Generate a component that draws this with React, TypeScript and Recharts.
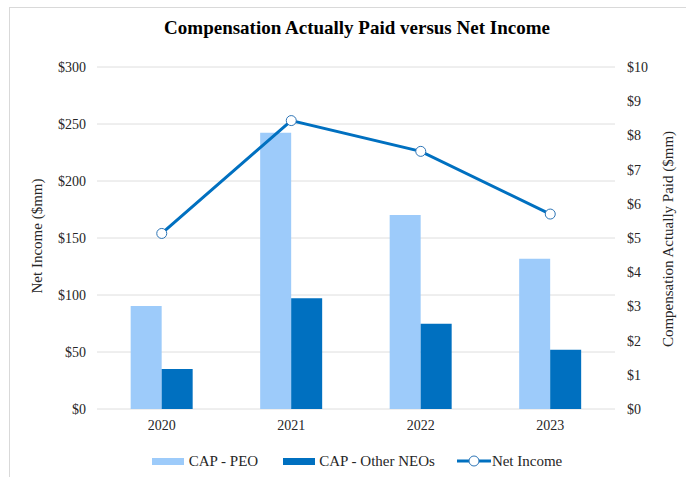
import { ComposedChart, Bar, Line, XAxis, YAxis, CartesianGrid, Legend } from 'recharts';

const years = ['2020', '2021', '2022', '2023'];
const capPeo = [3.01, 8.08, 5.67, 4.39];
const capOtherNeos = [1.17, 3.24, 2.49, 1.73];
const netIncome = [154, 253, 226, 171];

const leftTicks = [0, 50, 100, 150, 200, 250, 300];
const rightTicks = [0, 1, 2, 3, 4, 5, 6, 7, 8, 9, 10];

const data = years.map((year, i) => ({
  year,
  peo: capPeo[i],
  other: capOtherNeos[i],
  netIncome: netIncome[i],
}));

const FONT = '"Liberation Serif", "Times New Roman", serif';
const LIGHT = '#9dcbfa';
const DARK = '#0070c0';
const tickStyle = { fill: '#262626', fontSize: 14, fontFamily: FONT };

function LegendContent() {
  return (
    <div
      style={{
        display: 'flex',
        justifyContent: 'center',
        alignItems: 'center',
        height: 24,
        fontFamily: FONT,
        fontSize: 15,
        color: '#262626',
      }}
    >
      <span style={{ display: 'inline-block', width: 32, height: 7, background: LIGHT, marginRight: 5 }} />
      <span style={{ marginRight: 25 }}>CAP - PEO</span>
      <span style={{ display: 'inline-block', width: 32, height: 7, background: DARK, marginRight: 4 }} />
      <span style={{ marginRight: 22 }}>CAP - Other NEOs</span>
      <svg width={34} height={12} style={{ marginRight: 1 }}>
        <line x1={0} y1={6} x2={34} y2={6} stroke={DARK} strokeWidth={3} />
        <circle cx={17} cy={6} r={5} fill="#fff" stroke="#2e75b6" strokeWidth={1} />
      </svg>
      <span>Net Income</span>
    </div>
  );
}

export default function App() {
  return (
    <div
      style={{
        position: 'absolute',
        left: 0,
        top: 0,
        width: 686,
        height: 477,
        background: '#fff',
        overflow: 'hidden',
        fontFamily: FONT,
      }}
    >
      <div
        style={{
          position: 'absolute',
          left: 9,
          top: 7,
          width: 700,
          height: 500,
          borderLeft: '1px solid #d9d9d9',
          borderTop: '1px solid #d9d9d9',
        }}
      />
      <div
        style={{
          position: 'absolute',
          left: 0,
          width: 714,
          top: 17,
          textAlign: 'center',
          fontWeight: 'bold',
          fontSize: 19,
          color: '#000',
        }}
      >
        Compensation Actually Paid versus Net Income
      </div>
      <div
        style={{
          position: 'absolute',
          left: 37,
          top: 236,
          transform: 'translate(-50%, -50%) rotate(-90deg)',
          whiteSpace: 'nowrap',
          fontSize: 15,
          color: '#262626',
        }}
      >
        Net Income ($mm)
      </div>
      <div
        style={{
          position: 'absolute',
          left: 668,
          top: 239,
          transform: 'translate(-50%, -50%) rotate(-90deg)',
          whiteSpace: 'nowrap',
          fontSize: 15,
          color: '#262626',
        }}
      >
        Compensation Actually Paid ($mm)
      </div>
      <div style={{ position: 'absolute', left: 0, top: 0 }}>
        <ComposedChart
          width={686}
          height={477}
          data={data}
          margin={{ top: 67, right: 11, left: 20, bottom: 4 }}
          barCategoryGap="26%"
          barGap={0}
        >
          <CartesianGrid yAxisId="left" vertical={false} stroke="#dedede" strokeWidth={1} />
          <XAxis
            dataKey="year"
            axisLine={false}
            tickLine={false}
            tickSize={0}
            tickMargin={11}
            height={40}
            tick={tickStyle}
          />
          <YAxis
            yAxisId="left"
            domain={[0, 300]}
            ticks={leftTicks}
            interval={0}
            axisLine={false}
            tickLine={false}
            tickSize={0}
            tickMargin={11}
            width={77}
            tick={tickStyle}
            tickFormatter={(v: number) => `$${v}`}
          />
          <YAxis
            yAxisId="right"
            orientation="right"
            domain={[0, 10]}
            ticks={rightTicks}
            interval={0}
            axisLine={false}
            tickLine={false}
            tickSize={0}
            tickMargin={12}
            width={60}
            tick={tickStyle}
            tickFormatter={(v: number) => `$${v}`}
          />
          <Bar yAxisId="right" dataKey="peo" name="CAP - PEO" fill={LIGHT} isAnimationActive={false} />
          <Bar yAxisId="right" dataKey="other" name="CAP - Other NEOs" fill={DARK} isAnimationActive={false} />
          <Line
            yAxisId="left"
            type="linear"
            dataKey="netIncome"
            name="Net Income"
            stroke={DARK}
            strokeWidth={3}
            dot={{ r: 5, fill: '#fff', stroke: '#2e75b6', strokeWidth: 1 }}
            activeDot={false}
            isAnimationActive={false}
          />
          <Legend
            verticalAlign="bottom"
            wrapperStyle={{ left: 0, width: 714 }}
            content={<LegendContent />}
          />
        </ComposedChart>
      </div>
    </div>
  );
}
